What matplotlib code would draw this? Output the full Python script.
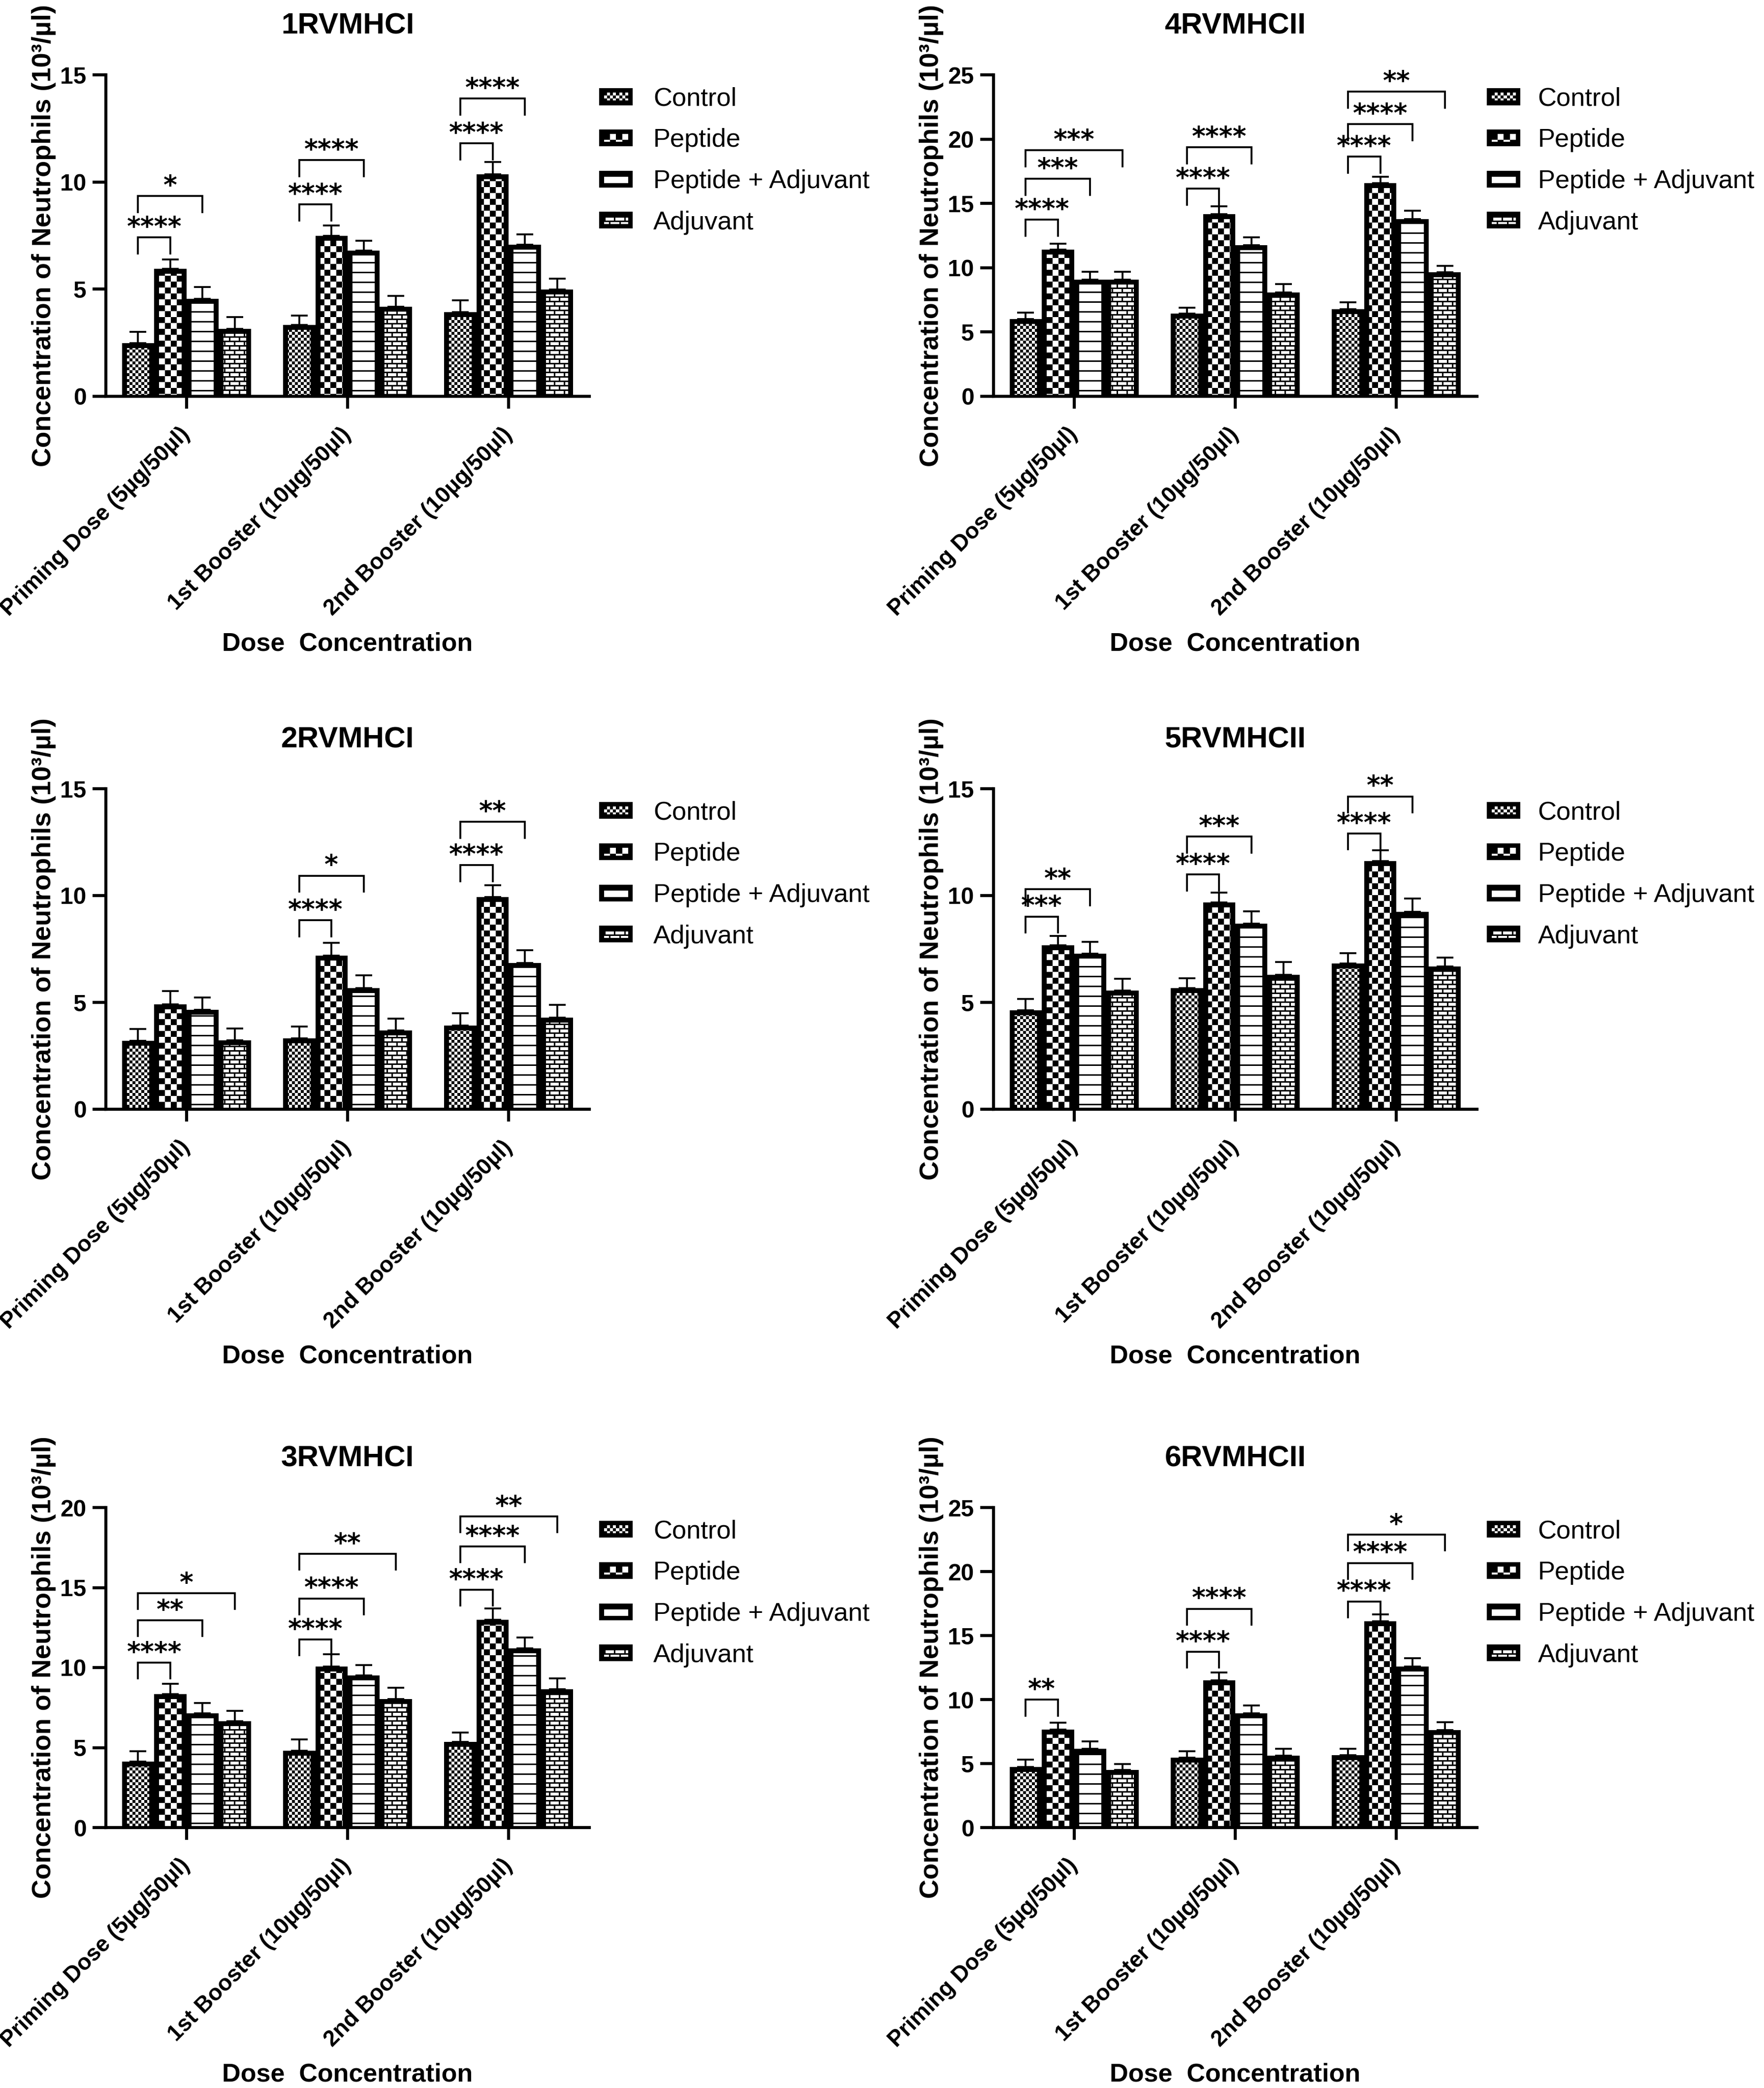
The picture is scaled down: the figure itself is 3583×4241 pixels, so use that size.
import numpy as np
import matplotlib
matplotlib.use("Agg")
import matplotlib.pyplot as plt
from matplotlib.patches import Rectangle, Patch
from matplotlib.path import Path
from matplotlib.colors import Normalize
from matplotlib.legend_handler import HandlerBase
from matplotlib.image import BboxImage
from matplotlib.transforms import Bbox, TransformedBbox

plt.rcParams['font.family'] = ['Liberation Sans', 'DejaVu Sans']

DPI = 300
FIG_W, FIG_H = 3583, 4241

doses = ["Priming Dose (5µg/50µl)", "1st Booster (10µg/50µl)", "2nd Booster (10µg/50µl)"]
groups = ["Control", "Peptide", "Peptide + Adjuvant", "Adjuvant"]

# rows = Control, Peptide, Peptide + Adjuvant, Adjuvant ; columns = doses
rv1_means = [[2.47, 3.34, 3.92], [5.94, 7.50, 10.35], [4.55, 6.79, 7.08], [3.15, 4.18, 4.99]]
rv1_errs = [[0.53, 0.42, 0.57], [0.45, 0.48, 0.59], [0.54, 0.47, 0.48], [0.55, 0.51, 0.49]]
rv1_sig = [(0, 0, 1, 7.42, '****'), (0, 0, 2, 9.35, '*'),
           (1, 0, 1, 8.96, '****'), (1, 0, 2, 11.02, '****'),
           (2, 0, 1, 11.81, '****'), (2, 0, 2, 13.89, '****')]

rv4_means = [[6.00, 6.43, 6.79], [11.41, 14.15, 16.56], [9.07, 11.77, 13.79], [9.07, 8.08, 9.63]]
rv4_errs = [[0.50, 0.46, 0.53], [0.46, 0.63, 0.52], [0.63, 0.60, 0.66], [0.63, 0.63, 0.50]]
rv4_sig = [(0, 0, 1, 13.75, '****'), (0, 0, 2, 16.92, '***'), (0, 0, 3, 19.13, '***'),
           (1, 0, 1, 16.16, '****'), (1, 0, 2, 19.36, '****'),
           (2, 0, 1, 18.63, '****'), (2, 0, 2, 21.17, '****'), (2, 0, 3, 23.68, '**')]

rv2_means = [[3.20, 3.32, 3.92], [4.90, 7.18, 9.93], [4.65, 5.67, 6.84], [3.22, 3.69, 4.28]]
rv2_errs = [[0.55, 0.56, 0.58], [0.62, 0.60, 0.55], [0.57, 0.59, 0.60], [0.57, 0.55, 0.60]]
rv2_sig = [(1, 0, 1, 8.84, '****'), (1, 0, 2, 10.93, '*'),
           (2, 0, 1, 11.42, '****'), (2, 0, 2, 13.45, '**')]

rv5_means = [[4.64, 5.66, 6.82], [7.67, 9.68, 11.62], [7.29, 8.68, 9.23], [5.56, 6.30, 6.69]]
rv5_errs = [[0.53, 0.47, 0.49], [0.45, 0.45, 0.50], [0.55, 0.59, 0.64], [0.55, 0.58, 0.40]]
rv5_sig = [(0, 0, 1, 9.02, '***'), (0, 0, 2, 10.30, '**'),
           (1, 0, 1, 10.98, '****'), (1, 0, 2, 12.76, '***'),
           (2, 0, 1, 12.91, '****'), (2, 0, 2, 14.64, '**')]

rv3_means = [[4.12, 4.80, 5.35], [8.35, 10.07, 12.99], [7.15, 9.52, 11.19], [6.66, 8.02, 8.65]]
rv3_errs = [[0.65, 0.71, 0.60], [0.65, 0.76, 0.71], [0.63, 0.63, 0.68], [0.63, 0.71, 0.68]]
rv3_sig = [(0, 0, 1, 10.31, '****'), (0, 0, 2, 12.96, '**'), (0, 0, 3, 14.65, '*'),
           (1, 0, 1, 11.76, '****'), (1, 0, 2, 14.32, '****'), (1, 0, 3, 17.11, '**'),
           (2, 0, 1, 14.87, '****'), (2, 0, 2, 17.57, '****'), (2, 0, 3, 19.45, '**')]

rv6_means = [[4.74, 5.46, 5.66], [7.64, 11.49, 16.13], [6.14, 8.94, 12.59], [4.50, 5.63, 7.61]]
rv6_errs = [[0.55, 0.51, 0.51], [0.55, 0.62, 0.51], [0.61, 0.61, 0.64], [0.48, 0.51, 0.64]]
rv6_sig = [(0, 0, 1, 9.99, '**'),
           (1, 0, 1, 13.74, '****'), (1, 0, 2, 17.09, '****'),
           (2, 0, 1, 17.67, '****'), (2, 0, 2, 20.67, '****'), (2, 0, 3, 22.89, '*')]

titles = ["1RVMHCI", "4RVMHCII", "2RVMHCI", "5RVMHCII", "3RVMHCI", "6RVMHCII"]
ymaxes = [15, 25, 15, 15, 20, 25]
all_means = [rv1_means, rv4_means, rv2_means, rv5_means, rv3_means, rv6_means]
all_errs = [rv1_errs, rv4_errs, rv2_errs, rv5_errs, rv3_errs, rv6_errs]
all_sig = [rv1_sig, rv4_sig, rv2_sig, rv5_sig, rv3_sig, rv6_sig]

# axes boxes in pixels (left, top, right, bottom)
col_lr = [(215, 1197), (2018, 3000)]
row_tb = [(152, 805), (1602, 2253), (3062, 3712)]
legend_pad = [0.8, 0.68]


def pattern(kind, h, w):
    i, j = np.mgrid[0:h, 0:w]
    if kind == 0:      # fine checker
        return ((i // 6 + j // 6) % 2).astype(float)
    if kind == 1:      # coarse checker
        return ((i // 12 + j // 12) % 2).astype(float)
    if kind == 2:      # horizontal lines
        return (i % 20 >= 3).astype(float)
    row = i // 9       # bricks
    mortar = (i % 9 < 3) | ((j + (row % 2) * 10) % 20 < 3)
    return (~mortar).astype(float)


class PatternHandler(HandlerBase):
    def __init__(self, kind):
        super().__init__()
        self.kind = kind

    def create_artists(self, legend, orig_handle, xdescent, ydescent,
                       width, height, fontsize, trans):
        hh = 0.65 * fontsize
        x0 = -xdescent
        y0 = -ydescent + height / 2 - hh / 2
        frame = Rectangle((x0, y0), width, hh, facecolor='black',
                          edgecolor='none', transform=trans)
        bxp, byp = 2.4, 2.2
        bb = Bbox.from_bounds(x0 + bxp, y0 + byp, width - 2 * bxp, hh - 2 * byp)
        nw = max(int(round((width - 2 * bxp) * DPI / 72)), 1)
        nh = max(int(round((hh - 2 * byp) * DPI / 72)), 1)
        img = BboxImage(TransformedBbox(bb, trans), cmap='gray',
                        norm=Normalize(0, 1), interpolation='nearest')
        img.set_data(pattern(self.kind, nh, nw))
        return [frame, img]


fig = plt.figure(figsize=(FIG_W / DPI, FIG_H / DPI), dpi=DPI)

bw = 0.2
x = np.arange(3)

for k in range(6):
    r, c = divmod(k, 2)
    left, right = col_lr[c]
    top, bottom = row_tb[r]
    ax_w = right - left
    ax_h = bottom - top
    ax = fig.add_axes([left / FIG_W, 1 - bottom / FIG_H, ax_w / FIG_W, ax_h / FIG_H])
    ymax = ymaxes[k]
    means = all_means[k]
    errs = all_errs[k]

    # black frame of 10 px inside each bar
    bx = 10 / (ax_w / 3.0)
    by = 10 / (ax_h / ymax)

    for g in range(4):
        xs = x + (g - 1.5) * bw
        ax.errorbar(xs, means[g], yerr=[np.zeros(3), errs[g]], fmt='none',
                    ecolor='black', elinewidth=0.9, capsize=4, capthick=0.9, zorder=2)
        bars = ax.bar(xs, means[g], width=bw, color='black', linewidth=0, zorder=3)
        paths = []
        for b in bars:
            x0 = b.get_x() + bx
            x1 = b.get_x() + b.get_width() - bx
            y1 = b.get_height() - by
            paths.append(Path([(x0, 0), (x1, 0), (x1, y1), (x0, y1), (x0, 0)],
                              [Path.MOVETO, Path.LINETO, Path.LINETO, Path.LINETO, Path.CLOSEPOLY]))
        clip = Path.make_compound_path(*paths)
        im = ax.imshow(pattern(g, ax_h, ax_w), cmap='gray', vmin=0, vmax=1,
                       extent=(-0.5, 2.5, 0, ymax), aspect='auto',
                       interpolation='nearest', zorder=4)
        im.set_clip_path(clip, ax.transData)

    leg = 0.05 * ymax
    for d, ga, gb, y, txt in all_sig[k]:
        xa = d + (ga - 1.5) * bw
        xb = d + (gb - 1.5) * bw
        ax.plot([xa, xa, xb, xb], [y - leg, y, y, y - leg], color='black',
                lw=0.9, zorder=5, solid_joinstyle='miter')
        ax.annotate(txt, ((xa + xb) / 2, y), xytext=(0, 1), textcoords='offset points',
                    ha='center', va='baseline', fontsize=12.8, fontweight='bold',
                    family='DejaVu Sans')

    ax.set_xlim(-0.5, 2.5)
    ax.set_ylim(0, ymax)
    for s in ['top', 'right']:
        ax.spines[s].set_visible(False)
    for s in ['left', 'bottom']:
        ax.spines[s].set_linewidth(1.5)
        ax.spines[s].set_zorder(6)

    yt = np.arange(0, ymax + 1, 5)
    ax.set_yticks(yt, labels=[str(v) for v in yt], fontsize=11.5, fontweight='bold')
    ax.set_xticks(x, labels=doses, rotation=45, ha='right', va='center',
                  rotation_mode='anchor', fontsize=11, fontweight='bold')
    ax.tick_params(axis='y', length=6.5, width=1.5, pad=3)
    ax.tick_params(axis='x', length=6, width=1.5, pad=11)

    ax.set_ylabel('Concentration of Neutrophils (10³/µl)', fontsize=13, fontweight='bold')
    ax.yaxis.set_label_coords(-0.103, 0.5)
    ax.set_xlabel('Dose  Concentration', fontsize=12.5, fontweight='bold')
    ax.xaxis.set_label_coords(0.5, -478 / ax_h)
    ax.set_title(titles[k], fontsize=14.5, fontweight='bold', pad=20)

    handles = [Patch() for _ in groups]
    hmap = {h: PatternHandler(g) for g, h in enumerate(handles)}
    ax.legend(handles, groups, handler_map=hmap, loc='upper left',
              bbox_to_anchor=(1.02, 0.962), frameon=False, borderpad=0,
              borderaxespad=0, fontsize=12.6, handlelength=1.3,
              handletextpad=legend_pad[c], labelspacing=0.66)

fig.savefig('out.png', dpi=DPI)
